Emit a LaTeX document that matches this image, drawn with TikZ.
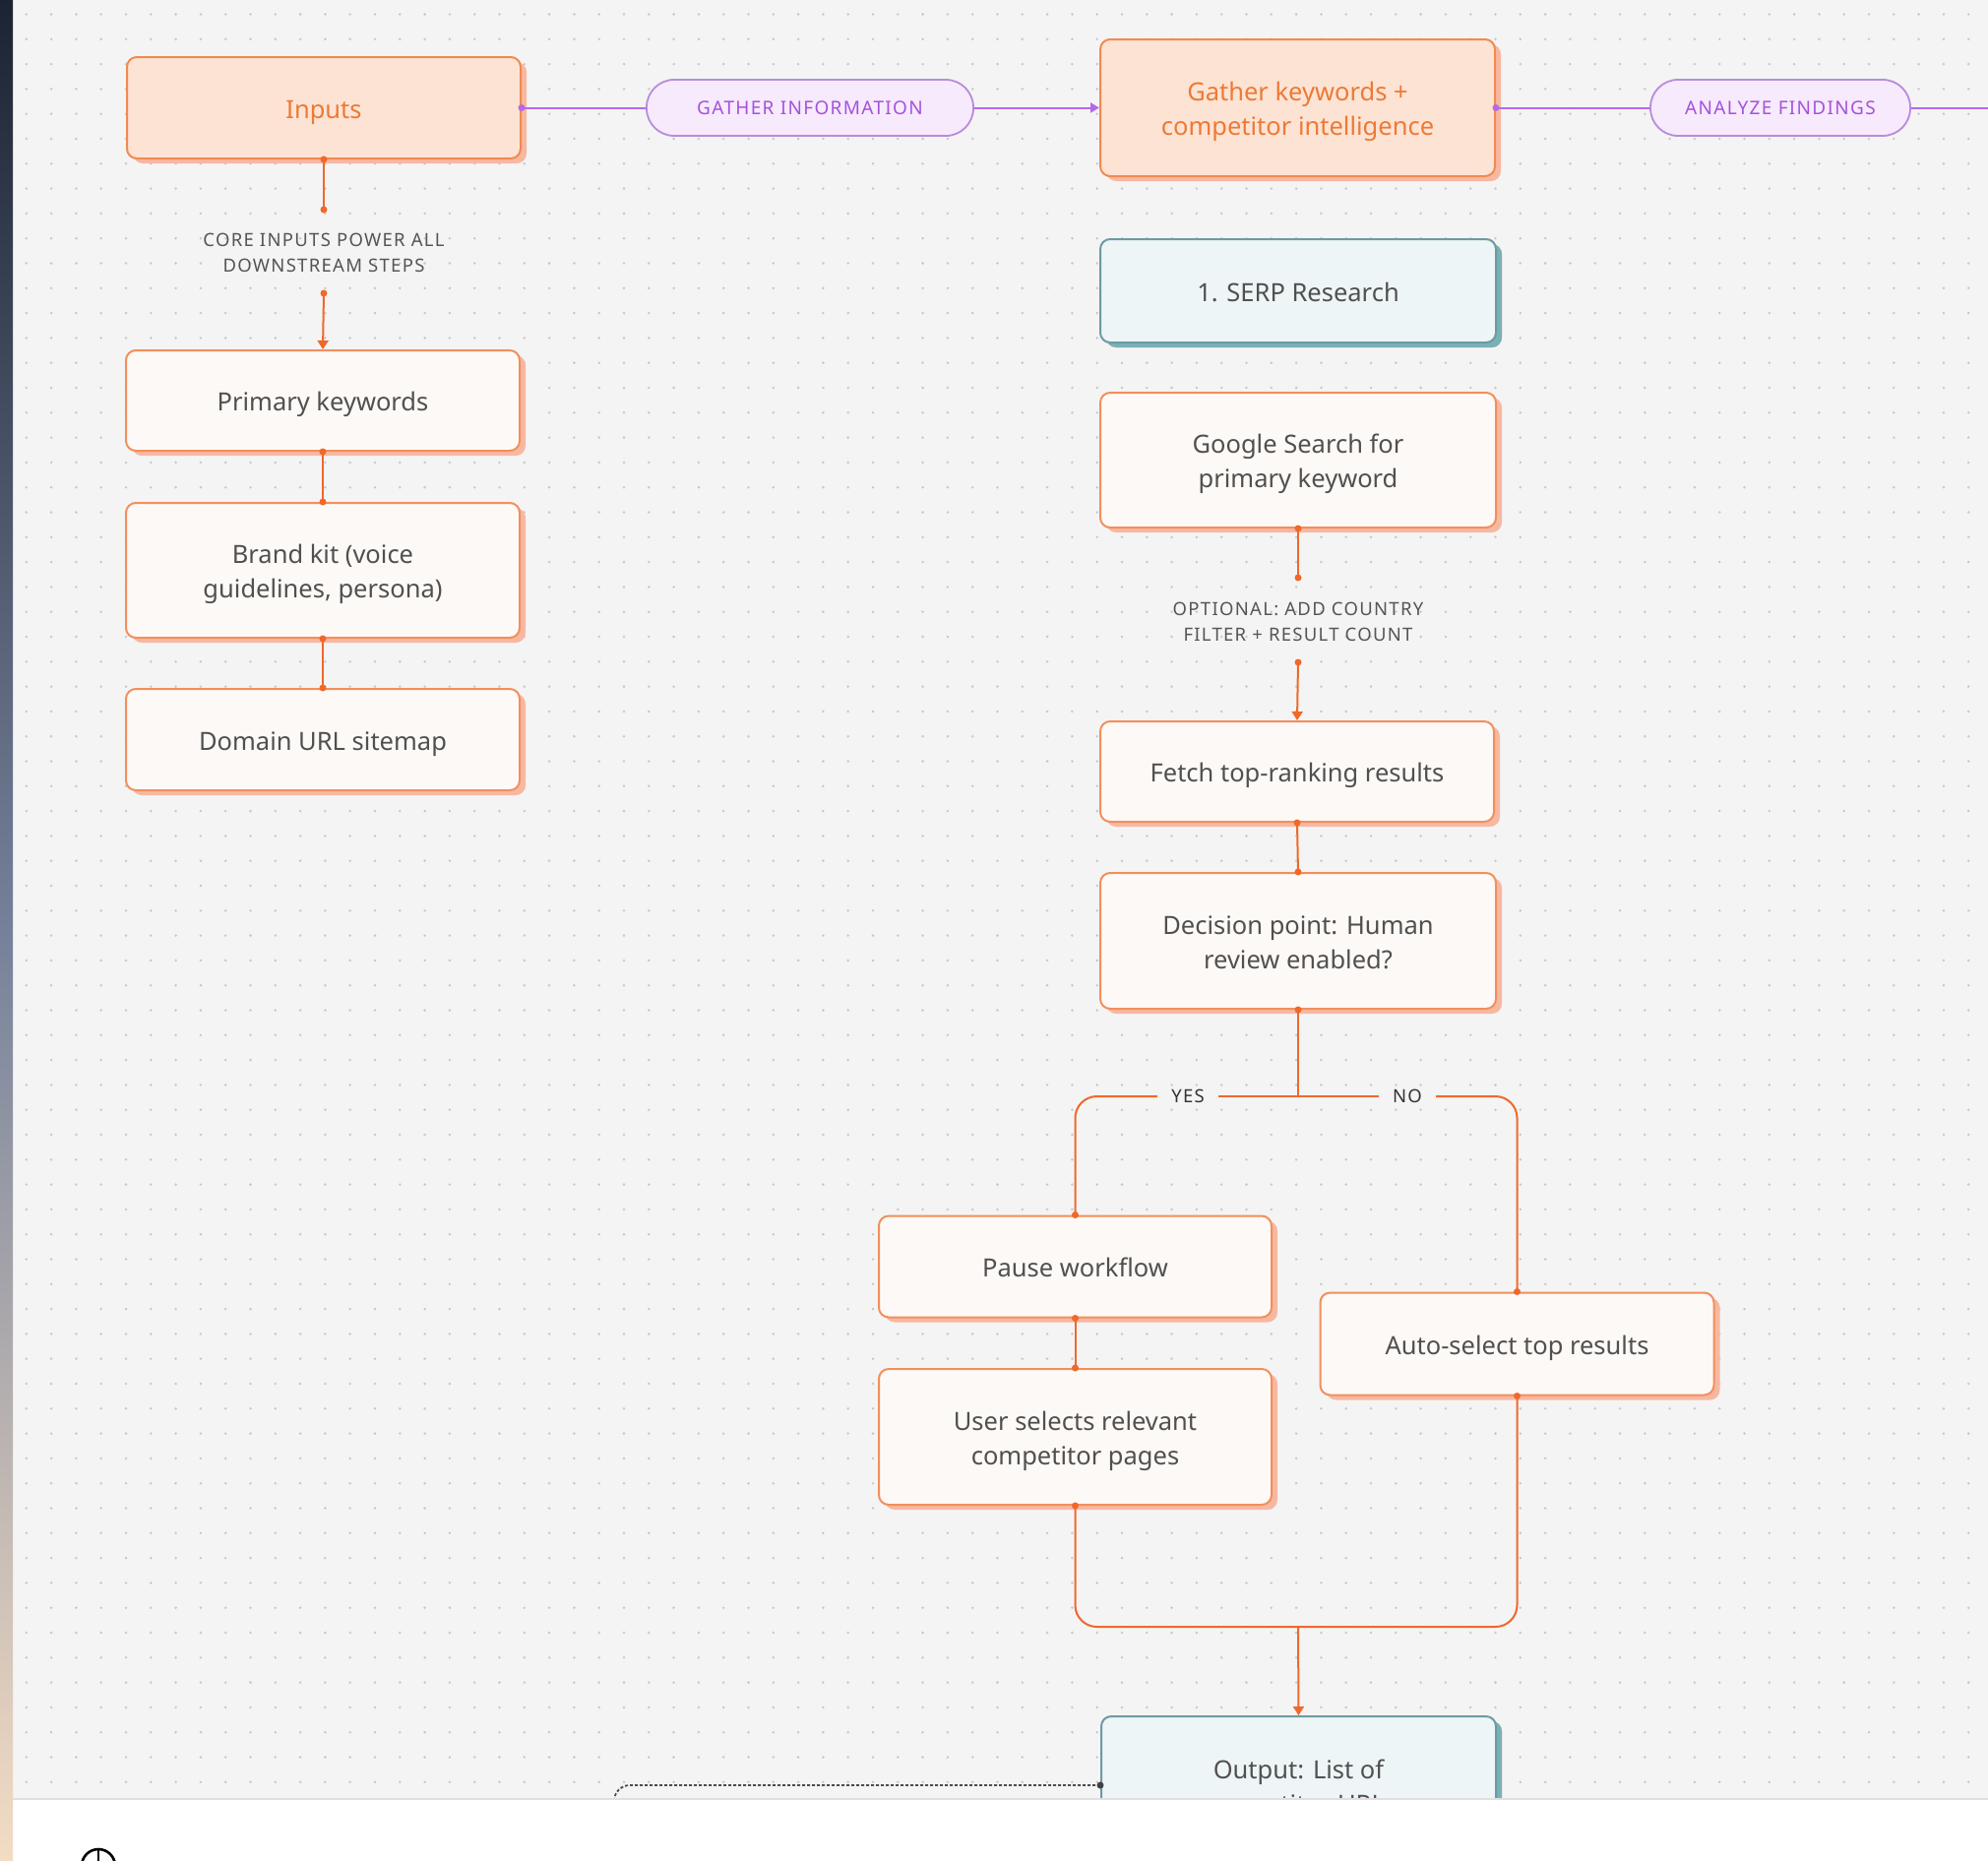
\documentclass[tikz,border=0pt]{standalone}
\usepackage{fontspec}
\setmainfont{Noto Sans}
\newfontfamily\spacedfont[LetterSpace=7]{Noto Sans}
\usetikzlibrary{arrows.meta,shadows,calc}
\newcommand\fstrut{\rule[-6.5pt]{0pt}{34pt}}
\newcommand\estrut{\rule[-6.5pt]{0pt}{0pt}}
\definecolor{bgc}{HTML}{F4F4F4}
\definecolor{dotc}{HTML}{C9C9C9}
\definecolor{orC}{HTML}{F0682A}
\definecolor{hfill}{HTML}{FDE3D4}
\definecolor{hborder}{HTML}{F08A52}
\definecolor{htext}{HTML}{EC7A36}
\definecolor{bfill}{HTML}{FDF9F6}
\definecolor{bborder}{HTML}{F28F5C}
\definecolor{shpink}{HTML}{F7B8A2}
\definecolor{tfill}{HTML}{EEF5F7}
\definecolor{tborder}{HTML}{6E9AA1}
\definecolor{tshadow}{HTML}{76B2B6}
\definecolor{txt}{HTML}{505050}
\definecolor{lbltxt}{HTML}{555555}
\definecolor{purl}{HTML}{B46AE8}
\definecolor{pfill}{HTML}{F6EAFC}
\definecolor{pborder}{HTML}{B88BDC}
\definecolor{ptext}{HTML}{A552DC}
\definecolor{navy}{HTML}{1C2433}
\definecolor{stripmid}{HTML}{75819A}
\definecolor{stripbot}{HTML}{F3DCC4}
\begin{document}
\begin{tikzpicture}[x=1pt,y=-1pt,
  box/.style={draw=bborder, fill=bfill, line width=2pt, rounded corners=10pt,
    minimum width=400pt, align=center, text=txt, inner sep=0pt,
    font=\fontsize{25.5}{35}\selectfont,
    drop shadow={shadow xshift=6pt, shadow yshift=-5pt, fill=shpink, opacity=1}},
  hbox/.style={box, fill=hfill, draw=hborder, text=htext},
  tbox/.style={box, fill=tfill, draw=tborder,
    drop shadow={shadow xshift=6pt, shadow yshift=-5pt, fill=tshadow, opacity=1}},
  pill/.style={draw=pborder, fill=pfill, line width=1.8pt, rounded corners=28pt,
    minimum height=57pt, text=ptext, inner sep=0pt, font=\spacedfont\fontsize{19}{22}\selectfont},
  conn/.style={draw=orC, line width=2pt},
  arr/.style={conn, -{Triangle[length=9pt,width=11pt]}},
  pline/.style={draw=purl, line width=2pt},
  lbl/.style={text=lbltxt, align=center, inner sep=0pt, font=\spacedfont\fontsize{18.5}{26}\selectfont},
  brl/.style={text=black!80, inner sep=0pt, font=\spacedfont\fontsize{18.5}{22}\selectfont}
]
\useasboundingbox (0,0) rectangle (2020,1890);
\fill[bgc] (0,0) rectangle (2020,1890);
\foreach \i in {0,...,79}{
  \foreach \j in {0,...,72}{
    \fill[dotc] (1.5+25.3*\i, 14.5+25.3*\j) circle[radius=1.4pt];
  }
}

% left column
\node[hbox, minimum height=103pt] (inputs) at (329,109.5) {\fstrut Inputs};
\node[box, minimum height=102pt] (prim) at (328,407) {\fstrut Primary keywords};
\node[box, minimum height=137pt] (brand) at (328,579.5) {\fstrut Brand kit (voice\\guidelines, persona)\estrut};
\node[box, minimum height=103pt] (domain) at (328,751.5) {\fstrut Domain URL sitemap};
\node[lbl] (corelbl) at (329,257) {CORE INPUTS POWER ALL\\DOWNSTREAM STEPS};
\coordinate (l1) at (329,213);
\coordinate (l2) at (329,298);
\draw[conn] (inputs.south) -- (l1);
\draw[arr] (l2) -- (prim.north);
\draw[conn] (prim.south) -- (brand.north);
\draw[conn] (brand.south) -- (domain.north);
\foreach \p in {inputs.south, l1, l2, prim.south, brand.north, brand.south, domain.north}
  \fill[orC] (\p) circle[radius=3.5pt];

% top row
\node[pill, minimum width=332pt] (gpill) at (823,109.5) {GATHER INFORMATION};
\node[hbox, minimum height=139pt, minimum width=401pt] (gkw) at (1318.5,109.5) {\fstrut Gather keywords +\\competitor intelligence\estrut};
\node[pill, minimum width=264pt] (apill) at (1809,109.5) {ANALYZE FINDINGS};
\coordinate (redge) at (2020,109.5);
\draw[pline] (inputs.east) -- (gpill.west);
\draw[pline, -{Triangle[length=9pt,width=10pt]}] (gpill.east) -- (gkw.west);
\draw[pline] (gkw.east) -- (apill.west);
\draw[pline] (apill.east) -- (redge);
\fill[purl] (inputs.east) circle[radius=3.5pt];
\fill[purl] (gkw.east) circle[radius=3.5pt];

% right column
\node[tbox, minimum height=105pt, minimum width=402pt] (serp) at (1319,295.5) {\fstrut 1. SERP Research};
\node[box, minimum height=137pt, minimum width=402pt] (google) at (1319,467.5) {\fstrut Google Search for\\primary keyword\estrut};
\node[lbl] (optlbl) at (1319,632) {OPTIONAL: ADD COUNTRY\\FILTER + RESULT COUNT};
\coordinate (g1) at (1319,587);
\coordinate (g2) at (1319,673);
\node[box, minimum height=102pt] (fetch) at (1318,784) {\fstrut Fetch top-ranking results};
\node[box, minimum height=138pt, minimum width=402pt] (dec) at (1319,956) {\fstrut Decision point: Human\\review enabled?\estrut};
\draw[conn] (google.south) -- (g1);
\draw[arr] (g2) -- (fetch.north);
\draw[conn] (fetch.south) -- (dec.north);
\foreach \p in {google.south, g1, g2, fetch.south, dec.north, dec.south}
  \fill[orC] (\p) circle[radius=3.5pt];

% branches
\node[box, minimum height=103pt, minimum width=399pt] (pause) at (1092.5,1287) {\fstrut Pause workflow};
\node[box, minimum height=138pt, minimum width=399pt] (user) at (1092.5,1460) {\fstrut User selects relevant\\competitor pages\estrut};
\node[box, minimum height=104pt] (auto) at (1541.5,1365.5) {\fstrut Auto-select top results};
\coordinate (br) at (1319,1114);
\node[brl] (yes) at (1207,1114) {YES};
\node[brl] (no) at (1430,1114) {NO};
\draw[conn] (dec.south) -- (br);
\draw[conn] (br) -- ([xshift=14pt]yes.east);
\draw[conn] (br) -- ([xshift=-14pt]no.west);
\draw[conn, rounded corners=22pt] ([xshift=-14pt]yes.west) -| (pause.north);
\draw[conn, rounded corners=22pt] ([xshift=14pt]no.east) -| (auto.north);
\draw[conn] (pause.south) -- (user.north);
\coordinate (mrg) at (1319,1653);
\draw[conn, rounded corners=22pt] (user.south) -- (user.south |- mrg) -- (auto.south |- mrg) -- (auto.south);
\node[tbox, minimum height=140pt, minimum width=401pt] (outp) at (1319.5,1814) {\fstrut Output: List of\\competitor URLs\estrut};
\draw[arr] (mrg) -- (outp.north);
\foreach \p in {pause.north, pause.south, user.north, user.south, auto.north, auto.south}
  \fill[orC] (\p) circle[radius=3.5pt];

% dashed link
\coordinate (dl) at (624,1870);
\draw[black!70, line width=1.8pt, dash pattern=on 3pt off 2pt, rounded corners=16pt] (outp.west) -- (dl |- outp.west) -- (dl);
\fill[black!75] (outp.west) circle[radius=3.5pt];

% UI chrome
\fill[white] (13,1828) rectangle (2020,1890);
\draw[black!12, line width=1.5pt] (13,1828) -- (2020,1828);
\shade[top color=navy, bottom color=stripbot, middle color=stripmid] (0,0) rectangle (13,1890);
\draw[black, line width=2.6pt] (83,1896) arc[start angle=180, end angle=0, radius=17pt];
\draw[black, line width=2.6pt] (100,1880) -- (100,1892);
\end{tikzpicture}
\end{document}
